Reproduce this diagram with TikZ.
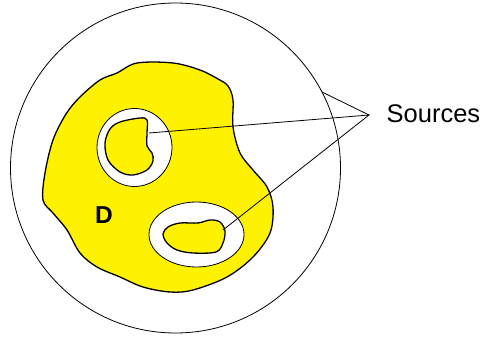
\documentclass[tikz,border=0pt]{standalone}
\usepackage{fontspec}
\setmainfont{Liberation Sans}
\begin{document}
\begin{tikzpicture}[x=1pt,y=-1pt,
  thin line/.style={line width=0.8pt,black},
  blob line/.style={line width=1.3pt,black},
  region/.style={blob line,fill=yellow},
  hole/.style={thin line,fill=white},
  lbl/.style={inner sep=0pt,anchor=base west}]
\useasboundingbox (0,0) rectangle (483,337);
% outer circle
\draw[thin line] (175.5,168) circle [radius=165];
% domain D
\draw[region] plot[smooth cycle,tension=0.55] coordinates {
 (233,100) (228,86) (218,79) (200,70) (173,63) (137,63) (117,73) (100,80)
 (80,97) (66,114) (53,140) (45,173) (43,200) (53,213) (67,230) (80,253)
 (97,267) (120,277) (143,287) (170,292) (193,290) (227,277) (253,257)
 (270,233) (273,207) (267,187) (253,170) (240,153) (233,127)};
% holes
\draw[hole] (134.5,147.5) ellipse [x radius=37.5, y radius=39];
\draw[hole] (196.5,234.5) ellipse [x radius=47.5, y radius=32.5];
% sources
\draw[region] plot[smooth cycle,tension=0.55] coordinates {
 (147,120) (140,118) (120,122) (110,129) (105,143) (108,160) (120,172)
 (133,175) (147,170) (153,161) (152,153) (147,146) (147,133)};
\draw[region] plot[smooth cycle,tension=0.55] coordinates {
 (163,234) (168,227) (180,223) (198,223) (210,220) (220,222) (225,231)
 (223,243) (216,252) (193,253) (177,250) (167,243)};
% labels
\node[lbl,font=\bfseries\fontsize{24.5}{24.5}\selectfont] (d) at (95,224) {D};
\node[lbl,font=\fontsize{25.5}{25.5}\selectfont] (src) at (386.5,123) {Sources};
\coordinate (apex) at (369,115);
\coordinate (s1) at (149,133);
\coordinate (s2) at (223,230);
\coordinate (c0) at (322,92);
\draw[thin line] (s1) -- (apex) -- (s2);
\draw[thin line] (c0) -- (apex);
\end{tikzpicture}
\end{document}
